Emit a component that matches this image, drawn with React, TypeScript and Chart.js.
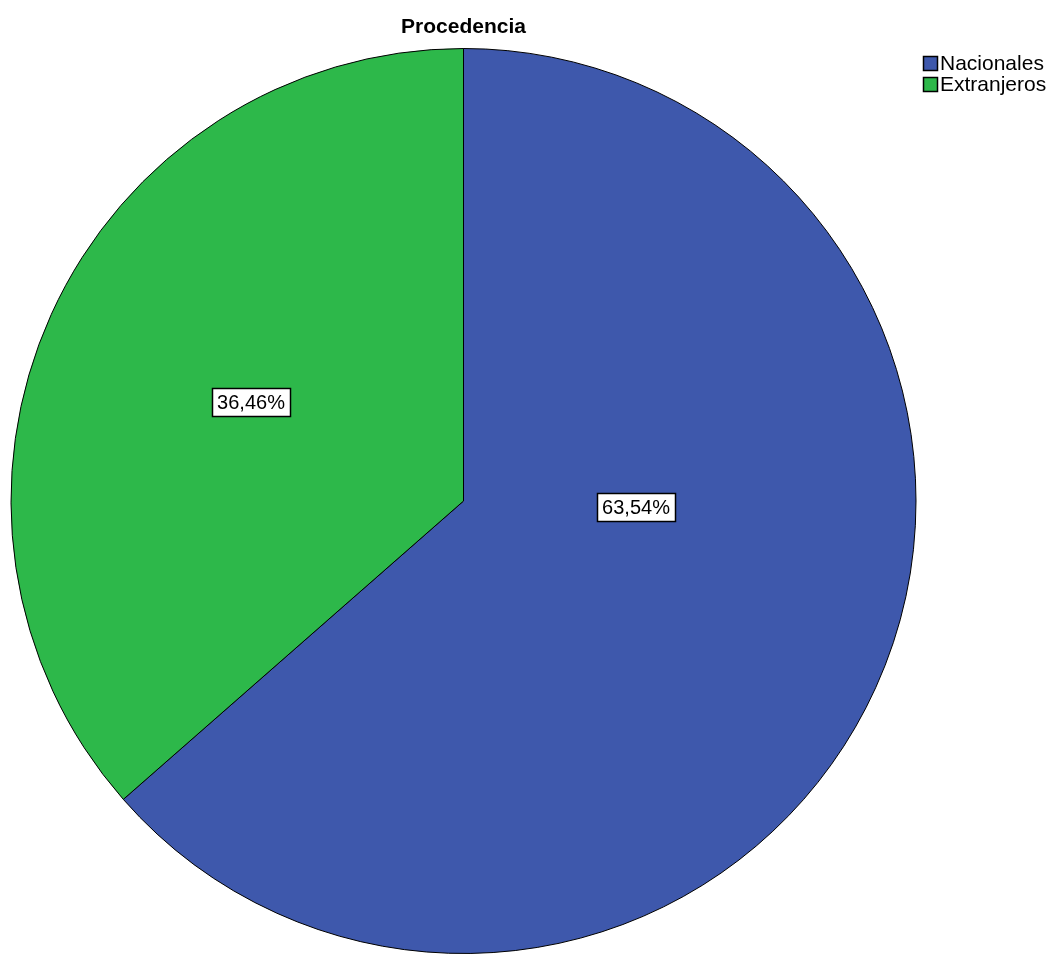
import React, { useEffect, useRef } from "react";
import { Chart, registerables } from "chart.js";

Chart.register(...registerables);

const categories = ["Nacionales", "Extranjeros"];
const values = [63.54, 36.46];
const valueLabels = ["63,54%", "36,46%"];
const colors = ["#3E58AC", "#2DB84A"];
const titleText = "Procedencia";

const overlayPlugin = {
  id: "overlay",
  afterDraw(chart: any) {
    const ctx = chart.ctx;
    const meta = chart.getDatasetMeta(0);
    ctx.save();
    // title
    ctx.fillStyle = "#000";
    ctx.font = "bold 21px 'Liberation Sans', Arial, sans-serif";
    ctx.textAlign = "center";
    ctx.textBaseline = "middle";
    const arc0 = meta.data[0];
    ctx.fillText(titleText, arc0.x, 27);

    // value labels
    ctx.font = "20px 'Liberation Sans', Arial, sans-serif";
    const placement = [
      { frac: 0.38, angleShift: -0.41 },
      { frac: 0.52, angleShift: 0 },
    ];
    meta.data.forEach((arc: any, i: number) => {
      const mid = (arc.startAngle + arc.endAngle) / 2 + placement[i].angleShift;
      const r = arc.outerRadius * placement[i].frac;
      const x = arc.x + Math.cos(mid) * r + (i === 0 ? 1 : 2);
      const y = arc.y + Math.sin(mid) * r + (i === 0 ? 3 : -2);
      const label = valueLabels[i];
      const w = Math.round(ctx.measureText(label).width + 10);
      const h = 28;
      const bx = Math.round(x - w / 2) + 0.5;
      const by = Math.round(y - h / 2) + 0.5;
      ctx.fillStyle = "#fff";
      ctx.fillRect(bx, by, w, h);
      ctx.strokeStyle = "#000";
      ctx.lineWidth = 1.5;
      ctx.strokeRect(bx, by, w, h);
      ctx.fillStyle = "#000";
      ctx.textAlign = "center";
      ctx.fillText(label, Math.round(x), Math.round(y) + 1);
    });

    // legend
    ctx.font = "21px 'Liberation Sans', Arial, sans-serif";
    ctx.textAlign = "left";
    ctx.lineWidth = 1.5;
    categories.forEach((c, i) => {
      const y = 56 + i * 21;
      ctx.fillStyle = colors[i];
      ctx.fillRect(923.5, y + 0.5, 14, 14);
      ctx.strokeStyle = "#000";
      ctx.strokeRect(923.5, y + 0.5, 14, 14);
      ctx.fillStyle = "#000";
      ctx.fillText(c, 940, y + 8);
    });
    ctx.restore();
  },
};

export default function App() {
  const ref = useRef<HTMLCanvasElement>(null);
  useEffect(() => {
    const chart = new Chart(ref.current!, {
      type: "pie",
      data: {
        labels: categories,
        datasets: [
          {
            data: values,
            backgroundColor: colors,
            borderColor: "#000",
            borderWidth: 1,
          },
        ],
      },
      options: {
        animation: false,
        responsive: false,
        rotation: 0,
        layout: { padding: { left: 10, right: 144, top: 48, bottom: 2 } },
        plugins: {
          legend: { display: false },
          tooltip: { enabled: false },
          title: { display: false },
        },
      },
      plugins: [overlayPlugin],
    });
    return () => chart.destroy();
  }, []);
  return (
    <div style={{ position: "fixed", left: 0, top: 0, width: 1061, height: 956, background: "#fff" }}>
      <canvas ref={ref} width={1061} height={956} />
    </div>
  );
}
